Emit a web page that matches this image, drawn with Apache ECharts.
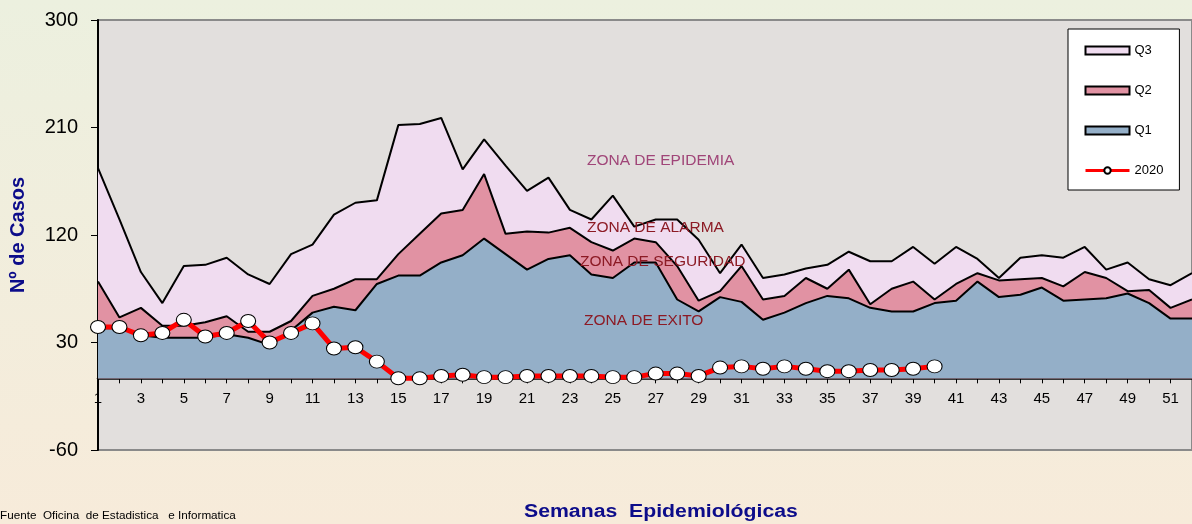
<!DOCTYPE html>
<html>
<head>
<meta charset="utf-8">
<script src="https://cdn.jsdelivr.net/npm/echarts@6/dist/echarts.min.js"></script>
<style>
  html, body { margin: 0; padding: 0; }
  #main { width: 1192px; height: 524px; }
</style>
</head>
<body>
<div id="main"></div>
<script>
'use strict';
// semanas epidemiologicas
var weeks = ['1','2','3','4','5','6','7','8','9','10','11','12','13','14','15','16','17','18','19','20',
	'21','22','23','24','25','26','27','28','29','30','31','32','33','34','35','36','37','38','39','40',
	'41','42','43','44','45','46','47','48','49','50','51','52'];
var q3 = [176,133,89,63,94,95,101,87,79,104,112,137,147,149,212,213,218,175,200,178,157,168,141,133,153,127,
	133,133,116,88,112,84,87,92,95,106,98,98,110,96,110,100,84,101,103,101,110,91,97,83,78,88];
var q2 = [81,51,59,44,44,47,52,39,39,48,69,75,83,83,104,121,138,141,171,121,123,122,126,114,107,117,
	114,94,65,73,94,66,69,84,75,91,62,75,81,66,79,88,82,83,84,77,89,84,73,74,59,66];
var q1 = [42,42,36,34,34,34,37,34,28,40,55,60,57,79,86,86,97,103,117,104,91,100,103,87,84,97,
	97,66,56,68,64,49,55,63,69,67,59,56,56,63,65,81,68,70,76,65,66,67,71,63,50,50];
var casos2020 = [43,43,36,38,49,35,38,48,30,38,46,25,26,14,0,0,2,3,1,1,2,2,2,2,1,1,
	4,4,2,9,10,8,10,8,6,6,7,7,8,10];
var yTicks = [-60, 30, 120, 210, 300];

var FONT = '"Liberation Sans", Arial, sans-serif';
var Y_MIN = -60, Y_MAX = 300;
var GRID_TOP = 20, GRID_H = 430;

function zona(name, data, fill) {
	return {
		name: name,
		type: 'line',
		data: data,
		showSymbol: false,
		symbol: 'none',
		lineStyle: { color: '#000', width: 2 },
		itemStyle: { color: fill },
		areaStyle: { color: fill, opacity: 1 },
		silent: true
	};
}

function etiqueta(text, x, y, color) {
	return {
		type: 'text', x: x, y: y, z: 100,
		style: { text: text, fill: color, font: '15.5px ' + FONT, verticalAlign: 'middle' }
	};
}

var chart = echarts.init(document.getElementById('main'));
chart.setOption({
	animation: false,
	backgroundColor: {
		type: 'linear', x: 0, y: 0, x2: 0, y2: 1,
		colorStops: [{ offset: 0, color: '#ECF0DF' }, { offset: 1, color: '#F7EBDA' }]
	},
	textStyle: { fontFamily: FONT },
	grid: {
		left: 97, top: GRID_TOP, width: 1096, height: GRID_H,
		show: true,
		backgroundColor: '#E2DFDD',
		borderColor: '#8a8a8a',
		borderWidth: 2
	},
	legend: {
		orient: 'vertical',
		left: 1068, top: 29,
		backgroundColor: '#fff',
		borderColor: '#000',
		borderWidth: 1,
		borderRadius: 0,
		padding: [15, 16, 13, 16],
		itemWidth: 44,
		itemHeight: 8,
		itemGap: 27,
		textStyle: { fontFamily: FONT, fontSize: 13, color: '#000' },
		data: [
			{ name: 'Q3', icon: 'rect', itemStyle: { borderColor: '#000', borderWidth: 2 } },
			{ name: 'Q2', icon: 'rect', itemStyle: { borderColor: '#000', borderWidth: 2 } },
			{ name: 'Q1', icon: 'rect', itemStyle: { borderColor: '#000', borderWidth: 2 } },
			{ name: '2020', lineStyle: { width: 3 } }
		]
	},
	xAxis: {
		type: 'category',
		data: weeks,
		boundaryGap: false,
		// eje en y = 0
		offset: -GRID_H * (0 - Y_MIN) / (Y_MAX - Y_MIN),
		axisLine: { onZero: false, lineStyle: { color: '#000', width: 2.5 } },
		axisTick: { show: true, interval: 0, length: 5, lineStyle: { color: '#000', width: 1 } },
		axisLabel: { interval: 1, margin: 13, fontSize: 15, color: '#000', fontFamily: FONT },
		splitLine: { show: false }
	},
	yAxis: {
		type: 'value',
		min: Y_MIN, max: Y_MAX, interval: 90,
		axisLine: { show: true, lineStyle: { color: '#000', width: 2 } },
		axisTick: { show: true, length: 7, customValues: yTicks, lineStyle: { color: '#000' } },
		axisLabel: { customValues: yTicks, margin: 20, fontSize: 20, color: '#000', fontFamily: FONT },
		splitLine: { show: false },
		name: 'Nº de Casos',
		nameLocation: 'middle',
		nameGap: 70,
		nameRotate: 90,
		nameTextStyle: { fontSize: 20, fontWeight: 'bold', color: '#0C0C8A', fontFamily: FONT }
	},
	series: [
		zona('Q3', q3, '#F0DCF0'),
		zona('Q2', q2, '#E192A3'),
		zona('Q1', q1, '#94AFC8'),
		{
			name: '2020',
			type: 'line',
			data: casos2020,
			symbol: 'circle',
			symbolSize: [15, 13],
			showAllSymbol: true,
			lineStyle: { color: '#FF0000', width: 5 },
			itemStyle: { color: '#fff', borderColor: '#000', borderWidth: 1 },
			z: 5
		}
	],
	graphic: [
		etiqueta('ZONA DE EPIDEMIA', 587, 161, '#A04578'),
		etiqueta('ZONA DE ALARMA', 587, 228, '#8C1A24'),
		etiqueta('ZONA DE SEGURIDAD', 580, 262, '#8C1A24'),
		etiqueta('ZONA DE EXITO', 584, 321, '#8C1A24'),
		{
			type: 'text', x: 524, y: 512, scaleX: 1.18, z: 100,
			style: { text: 'Semanas  Epidemiológicas', fill: '#0C0C8A', font: 'bold 18px ' + FONT, verticalAlign: 'middle' }
		},
		{
			type: 'text', x: 0, y: 516, z: 100,
			style: { text: 'Fuente  Oficina  de Estadistica   e Informatica', fill: '#000', font: '11.7px ' + FONT, verticalAlign: 'middle' }
		}
	]
});
</script>
</body>
</html>
